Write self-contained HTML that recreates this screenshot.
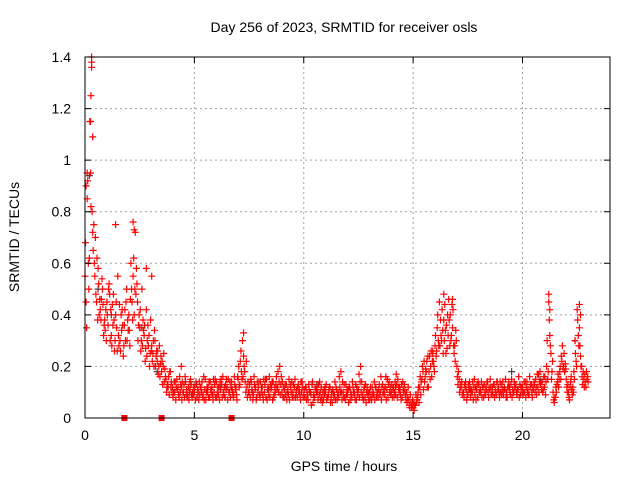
<!DOCTYPE html>
<html><head><meta charset="utf-8">
<style>
body{margin:0;background:#fff}
svg{display:block}
text{font-family:"Liberation Sans",sans-serif;font-size:14px;fill:#000}
</style></head>
<body>
<svg id="chart" width="640" height="480">
<rect width="640" height="480" fill="#fff"/>
<g id="grid"></g>
<g id="blk"></g>
<g id="pts"></g>
<rect x="85" y="57" width="525" height="361" fill="none" stroke="#000" stroke-width="1"/>
<g id="ticks"></g>
<text x="344" y="32" text-anchor="middle">Day 256 of 2023, SRMTID for receiver osls</text>
<text x="344" y="471" text-anchor="middle">GPS time / hours</text>
<text x="19" y="237" text-anchor="middle" transform="rotate(-90 19 237)">SRMTID / TECUs</text>
</svg>
<script>
const xTicks=[0,5,10,15,20];
const yTicks=[0,0.2,0.4,0.6,0.8,1,1.2,1.4];
const yTickLabels=["0","0.2","0.4","0.6","0.8","1","1.2","1.4"];
const step=0.1;
const seriesA=[0.55,0.85,0.62,1.38,0.75,0.48,0.58,0.42,0.5,0.38,
0.45,0.52,0.32,0.48,0.4,0.55,0.3,0.42,0.36,0.5,
0.4,0.6,0.55,0.72,0.45,0.35,0.5,0.32,0.42,0.28,
0.38,0.25,0.3,0.22,0.28,0.18,0.25,0.15,0.12,0.18,
0.12,0.1,0.15,0.08,0.12,0.1,0.14,0.09,0.11,0.08,
0.1,0.13,0.07,0.12,0.09,0.15,0.1,0.08,0.12,0.1,
0.14,0.09,0.11,0.16,0.08,0.12,0.1,0.14,0.09,0.12,
0.15,0.22,0.3,0.18,0.12,0.1,0.14,0.09,0.12,0.1,
0.08,0.12,0.1,0.15,0.09,0.11,0.14,0.1,0.12,0.2,
0.1,0.08,0.13,0.09,0.12,0.1,0.15,0.08,0.11,0.1,
0.09,0.12,0.07,0.1,0.14,0.08,0.11,0.09,0.12,0.07,
0.1,0.08,0.12,0.06,0.09,0.11,0.08,0.18,0.1,0.07,
0.09,0.12,0.08,0.1,0.07,0.11,0.2,0.09,0.08,0.12,
0.1,0.07,0.09,0.12,0.08,0.1,0.13,0.09,0.11,0.14,
0.1,0.12,0.09,0.15,0.11,0.08,0.13,0.1,0.07,0.06,
0.04,0.05,0.08,0.12,0.15,0.22,0.18,0.12,0.2,0.25,
0.28,0.35,0.45,0.3,0.38,0.25,0.32,0.4,0.35,0.28,
0.2,0.15,0.12,0.1,0.14,0.09,0.12,0.1,0.15,0.11,
0.13,0.1,0.12,0.09,0.14,0.11,0.1,0.13,0.09,0.12,
0.1,0.14,0.11,0.08,0.12,0.15,0.1,0.13,0.11,0.09,
0.12,0.1,0.14,0.09,0.13,0.11,0.15,0.12,0.18,0.14,
0.12,0.2,0.45,0.25,0.1,0.08,0.14,0.18,0.22,0.25,
0.15,0.1,0.14,0.12,0.3,0.42,0.35,0.2,0.15,0.12,0.14];
const seriesB=[0.68,0.92,1.15,0.8,0.6,0.45,0.52,0.38,0.44,0.34,
0.4,0.48,0.28,0.38,0.45,0.32,0.26,0.36,0.42,0.3,
0.34,0.5,0.62,0.48,0.3,0.42,0.28,0.36,0.24,0.32,
0.26,0.3,0.2,0.26,0.16,0.22,0.14,0.1,0.16,0.12,
0.08,0.14,0.11,0.16,0.07,0.13,0.09,0.12,0.15,0.1,
0.12,0.08,0.14,0.1,0.16,0.07,0.12,0.14,0.09,0.13,
0.08,0.12,0.15,0.1,0.13,0.07,0.14,0.11,0.16,0.09,
0.2,0.26,0.16,0.14,0.08,0.13,0.11,0.16,0.07,0.12,
0.14,0.09,0.13,0.07,0.16,0.12,0.08,0.13,0.18,0.09,
0.14,0.11,0.07,0.15,0.1,0.13,0.08,0.12,0.09,0.14,
0.11,0.07,0.13,0.09,0.06,0.12,0.1,0.14,0.08,0.11,
0.13,0.09,0.06,0.11,0.14,0.07,0.16,0.1,0.08,0.13,
0.11,0.07,0.14,0.09,0.12,0.17,0.1,0.07,0.13,0.09,
0.07,0.12,0.14,0.08,0.11,0.16,0.09,0.12,0.15,0.1,
0.13,0.08,0.17,0.12,0.09,0.14,0.11,0.06,0.05,0.04,
0.06,0.09,0.1,0.16,0.2,0.14,0.22,0.18,0.26,0.22,
0.32,0.4,0.28,0.42,0.3,0.36,0.46,0.3,0.42,0.22,
0.16,0.1,0.14,0.08,0.11,0.13,0.08,0.14,0.09,0.13,
0.1,0.14,0.08,0.12,0.1,0.15,0.12,0.08,0.14,0.1,
0.13,0.09,0.15,0.12,0.1,0.08,0.14,0.1,0.16,0.12,
0.09,0.14,0.1,0.16,0.1,0.14,0.12,0.17,0.13,0.1,
0.16,0.3,0.38,0.15,0.07,0.12,0.17,0.2,0.28,0.18,
0.12,0.08,0.16,0.1,0.25,0.38,0.28,0.16,0.12,0.18];
const seriesC=[0.45,0.6,0.95,0.72,0.55,0.62,0.4,0.46,0.32,0.42,
0.36,0.3,0.44,0.26,0.35,0.28,0.4,0.24,0.3,0.38,
0.28,0.45,0.4,0.58,0.36,0.26,0.38,0.22,0.3,0.2,
0.28,0.2,0.24,0.17,0.21,0.13,0.19,0.12,0.09,0.14,
0.1,0.07,0.12,0.1,0.14,0.08,0.11,0.07,0.13,0.09,
0.07,0.11,0.09,0.14,0.07,0.1,0.08,0.11,0.07,0.15,
0.1,0.07,0.13,0.09,0.11,0.15,0.08,0.1,0.13,0.07,
0.12,0.18,0.24,0.1,0.14,0.08,0.1,0.13,0.08,0.14,
0.1,0.07,0.15,0.11,0.08,0.14,0.09,0.16,0.1,0.13,
0.08,0.13,0.1,0.07,0.14,0.08,0.1,0.13,0.07,0.12,
0.08,0.1,0.11,0.05,0.09,0.11,0.07,0.1,0.06,0.09,
0.07,0.11,0.08,0.1,0.07,0.09,0.12,0.07,0.13,0.09,
0.06,0.1,0.12,0.07,0.1,0.08,0.14,0.11,0.06,0.1,
0.12,0.09,0.07,0.1,0.13,0.07,0.1,0.16,0.08,0.12,
0.08,0.1,0.13,0.1,0.07,0.11,0.09,0.08,0.04,0.05,
0.03,0.06,0.12,0.09,0.18,0.16,0.12,0.24,0.16,0.2,
0.24,0.3,0.38,0.34,0.44,0.27,0.38,0.32,0.28,0.34,
0.13,0.12,0.09,0.13,0.07,0.11,0.1,0.07,0.12,0.08,
0.1,0.08,0.13,0.11,0.08,0.12,0.09,0.11,0.14,0.08,
0.09,0.11,0.08,0.12,0.09,0.11,0.12,0.09,0.08,0.12,
0.1,0.08,0.11,0.12,0.08,0.13,0.09,0.1,0.14,0.11,
0.09,0.15,0.32,0.18,0.06,0.1,0.12,0.15,0.19,0.21,
0.1,0.07,0.11,0.18,0.22,0.32,0.24,0.13,0.17,0.15];
const seriesD=[0.35,0.5,0.82,0.65,0.7,0.38,0.46,0.54,0.36,0.3,
0.5,0.42,0.36,0.3,0.26,0.44,0.34,0.28,0.45,0.34,
0.46,0.38,0.5,0.52,0.4,0.3,0.34,0.27,0.36,0.25,
0.22,0.34,0.26,0.2,0.24,0.2,0.16,0.13,0.18,0.1,
0.14,0.12,0.09,0.13,0.1,0.16,0.08,0.1,0.09,0.12,
0.14,0.1,0.12,0.08,0.11,0.12,0.14,0.1,0.15,0.08,
0.12,0.14,0.08,0.12,0.15,0.1,0.12,0.08,0.11,0.16,
0.13,0.15,0.2,0.22,0.1,0.15,0.07,0.11,0.14,0.09,
0.12,0.15,0.08,0.12,0.13,0.07,0.12,0.11,0.14,0.16,
0.12,0.09,0.11,0.13,0.08,0.12,0.11,0.1,0.14,0.08,
0.12,0.09,0.1,0.13,0.08,0.1,0.13,0.07,0.1,0.12,
0.08,0.12,0.1,0.08,0.12,0.1,0.1,0.14,0.08,0.11,
0.12,0.09,0.1,0.13,0.09,0.14,0.08,0.12,0.1,0.07,
0.09,0.1,0.12,0.1,0.09,0.12,0.11,0.07,0.13,0.09,
0.11,0.14,0.08,0.12,0.13,0.1,0.07,0.12,0.09,0.07,
0.05,0.07,0.06,0.14,0.11,0.19,0.24,0.15,0.22,0.18,
0.26,0.28,0.32,0.25,0.34,0.4,0.28,0.44,0.25,0.3,
0.18,0.13,0.1,0.12,0.09,0.14,0.11,0.12,0.07,0.14,
0.11,0.12,0.1,0.14,0.12,0.09,0.13,0.1,0.11,0.14,
0.11,0.12,0.1,0.14,0.13,0.1,0.12,0.11,0.13,0.1,
0.14,0.12,0.09,0.13,0.12,0.1,0.17,0.14,0.11,0.16,
0.14,0.18,0.28,0.22,0.08,0.13,0.15,0.24,0.2,0.19,
0.13,0.12,0.09,0.15,0.2,0.28,0.2,0.18,0.14,0.16];
const outlierTimes=[0.25,0.27,0.3,0.3,0.35,1.4,2.2,2.25,2.8,3.05,4.4,7.25,15.9,16.4,16.8,21.2,21.25,22.6,22.65,0.1,0.05];
const outlierValues=[1.15,1.25,1.36,1.4,1.09,0.75,0.76,0.73,0.58,0.55,0.2,0.33,0.26,0.48,0.46,0.48,0.42,0.44,0.4,0.95,0.9];
const blackTimes=[0.2,0.6,1.2,2.6,3.3,4.8,6.2,8.4,10.6,12.3,14.2,17.6,19.5,20.8,22.4];
const blackValues=[0.94,0.5,0.4,0.35,0.18,0.14,0.12,0.11,0.13,0.1,0.12,0.11,0.18,0.15,0.3];
const zeroTimes=[1.8,3.5,6.7];

const X0=85,X1=610,Y0=418,Y1=57,XMAX=24,YMAX=1.4;
const xs=t=>X0+(X1-X0)*t/XMAX;
const ys=v=>Y0-(Y0-Y1)*v/YMAX;
const NS="http://www.w3.org/2000/svg";
const grid=document.getElementById('grid'),ticks=document.getElementById('ticks');
function mk(tag,attrs,parent){const e=document.createElementNS(NS,tag);for(const k in attrs)e.setAttribute(k,attrs[k]);parent.appendChild(e);return e;}
xTicks.forEach(t=>{
  const x=xs(t);
  if(t>0){const g=mk('line',{x1:x,x2:x,y1:Y1,y2:Y0,stroke:'#a0a0a0','stroke-dasharray':'2,3'},grid);
  
  }
  const a=mk('path',{d:`M${x} ${Y0}v-6M${x} ${Y1}v6`,stroke:'#000'},ticks);
  
  
  const l=mk('text',{x:x,y:Y0+22,'text-anchor':'middle'},ticks);l.textContent=t;
  
  
});
yTicks.forEach((v,i)=>{
  const y=ys(v);
  if(v>0&&v<YMAX){const g=mk('line',{x1:X0,x2:X1,y1:y,y2:y,stroke:'#a0a0a0','stroke-dasharray':'2,3'},grid);
  
  }
  const a=mk('path',{d:`M${X0} ${y}h6M${X1} ${y}h-6`,stroke:'#000'},ticks);
  
  
  const l=mk('text',{x:X0-14,y:y+5,'text-anchor':'end'},ticks);l.textContent=yTickLabels[i];
  
  
});
function crosses(times,vals,color,parent,name){
  let d='';
  for(let i=0;i<vals.length;i++){const x=xs(times(i)),y=ys(vals[i]);d+=`M${(x-3.5).toFixed(1)} ${y.toFixed(1)}h7M${x.toFixed(1)} ${(y-3.5).toFixed(1)}v7`;}
  const p=mk('path',{d:d,stroke:color,'stroke-width':1.2,fill:'none'},parent);
  
  
}
const pts=document.getElementById('pts'),blk=document.getElementById('blk');
crosses(i=>blackTimes[i],blackValues,'#404040',blk,'black-points');
crosses(i=>i*step,seriesA,'#ff0000',pts,'points-a');
crosses(i=>i*step+0.025,seriesB,'#ff0000',pts,'points-b');
crosses(i=>i*step+0.05,seriesC,'#ff0000',pts,'points-c');
crosses(i=>i*step+0.075,seriesD,'#ff0000',pts,'points-d');
crosses(i=>outlierTimes[i],outlierValues,'#ff0000',pts,'outlier-points');
zeroTimes.forEach(t=>{
  const r=mk('rect',{x:xs(t)-3,y:Y0-3,width:6,height:6,fill:'#ff0000'},pts);
  
  
});
</script>
</body></html>
